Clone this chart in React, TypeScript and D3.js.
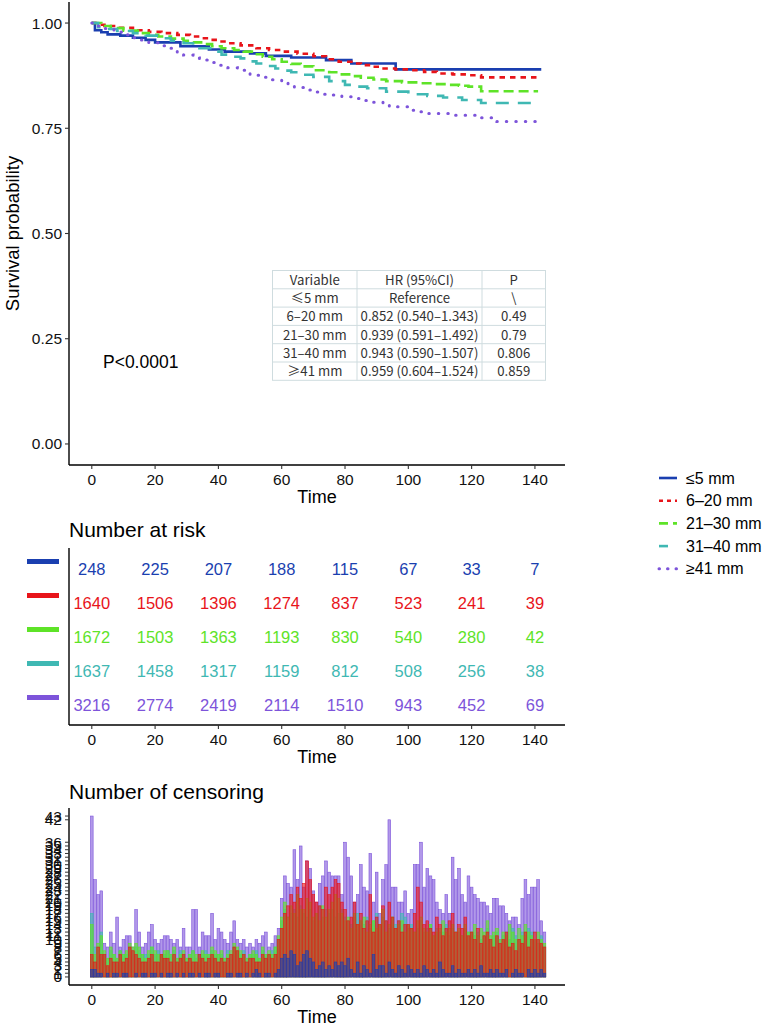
import React from "react";
import * as d3 from "d3";

const groups = ["≤5 mm", "6–20 mm", "21–30 mm", "31–40 mm", "≥41 mm"];
const colors = ["#1a3fb0", "#e8141a", "#5ee328", "#3fb8b3", "#7d54da"];
const dashes = ["none", "5.5,5", "10,5", "13,9", "0.5,9"];

// Survival step curves (time, probability)
const survBlueT = [0, 1, 3, 5, 9, 13, 17, 20, 28, 37, 42, 50, 55, 63, 74, 82, 96, 142];
const survBlueS = [1, 0.983, 0.978, 0.973, 0.97, 0.965, 0.96, 0.954, 0.945, 0.937, 0.932, 0.928, 0.922, 0.918, 0.912, 0.904, 0.89, 0.89];
const survRedT = [0, 2, 4, 8, 13, 18, 22, 27, 31, 34, 37, 40, 43, 47, 52, 56, 60, 65, 70, 74, 78, 82, 85, 88, 91, 96, 101, 105, 109, 114, 119, 123, 142];
const survRedS = [1, 0.996, 0.993, 0.989, 0.983, 0.979, 0.976, 0.972, 0.968, 0.964, 0.96, 0.956, 0.952, 0.947, 0.94, 0.936, 0.932, 0.927, 0.921, 0.914, 0.908, 0.904, 0.9, 0.896, 0.892, 0.89, 0.888, 0.884, 0.88, 0.878, 0.876, 0.871, 0.871];
const survGreenT = [0, 3, 6, 10, 15, 18, 21, 25, 29, 32, 35, 38, 41, 45, 48, 51, 54, 57, 60, 63, 66, 70, 75, 79, 82, 85, 89, 93, 98, 103, 108, 112, 116, 119, 123, 141];
const survGreenS = [1, 0.993, 0.988, 0.982, 0.976, 0.972, 0.968, 0.963, 0.958, 0.954, 0.95, 0.945, 0.94, 0.936, 0.932, 0.926, 0.92, 0.914, 0.908, 0.903, 0.897, 0.888, 0.883, 0.878, 0.874, 0.87, 0.866, 0.862, 0.859, 0.857, 0.855, 0.853, 0.851, 0.849, 0.838, 0.838];
const survCyanT = [0, 2, 4, 8, 13, 17, 21, 25, 29, 32, 34, 38, 41, 44, 47, 50, 52, 55, 58, 61, 63, 67, 70, 75, 80, 84, 87, 93, 100, 106, 111, 117, 123, 141];
const survCyanS = [1, 0.99, 0.986, 0.981, 0.976, 0.97, 0.964, 0.958, 0.952, 0.946, 0.94, 0.932, 0.925, 0.92, 0.916, 0.909, 0.904, 0.898, 0.892, 0.887, 0.883, 0.877, 0.872, 0.862, 0.853, 0.849, 0.845, 0.837, 0.831, 0.827, 0.823, 0.817, 0.81, 0.81];
const survPurpleT = [0, 2, 4, 7, 10, 13, 15, 18, 21, 24, 27, 29, 32, 34, 37, 40, 43, 46, 50, 53, 57, 60, 62, 64, 67, 70, 73, 76, 79, 82, 86, 89, 92, 94, 100, 103, 106, 114, 122, 128, 142];
const survPurpleS = [1, 0.993, 0.987, 0.979, 0.972, 0.965, 0.96, 0.953, 0.946, 0.94, 0.93, 0.924, 0.917, 0.912, 0.906, 0.9, 0.894, 0.888, 0.876, 0.871, 0.865, 0.859, 0.853, 0.847, 0.841, 0.836, 0.831, 0.829, 0.825, 0.821, 0.816, 0.812, 0.806, 0.801, 0.793, 0.789, 0.785, 0.781, 0.775, 0.766, 0.766];

const survTimes = [survBlueT, survRedT, survGreenT, survCyanT, survPurpleT];
const survProbs = [survBlueS, survRedS, survGreenS, survCyanS, survPurpleS];

// HR table
const hrHeader = ["Variable", "HR (95%CI)", "P"];
const hrVariables = ["≤5 mm", "6–20 mm", "21–30 mm", "31–40 mm", "≥41 mm"];
const hrValues = ["Reference", "0.852 (0.540–1.343)", "0.939 (0.591–1.492)", "0.943 (0.590–1.507)", "0.959 (0.604–1.524)"];
const hrP = ["\\", "0.49", "0.79", "0.806", "0.859"];

// Number at risk
const riskTimes = [0, 20, 40, 60, 80, 100, 120, 140];
const riskBlue = [248, 225, 207, 188, 115, 67, 33, 7];
const riskRed = [1640, 1506, 1396, 1274, 837, 523, 241, 39];
const riskGreen = [1672, 1503, 1363, 1193, 830, 540, 280, 42];
const riskCyan = [1637, 1458, 1317, 1159, 812, 508, 256, 38];
const riskPurple = [3216, 2774, 2419, 2114, 1510, 943, 452, 69];
const riskRows = [riskBlue, riskRed, riskGreen, riskCyan, riskPurple];

// Number of censoring, time 0..143
const censorBlue = [
  2, 2, 1, 1, 0, 1, 0, 1, 1, 0, 1, 1, 0, 0, 1, 0, 1, 1, 0, 1,
  1, 0, 1, 0, 1, 1, 0, 1, 0, 1, 0, 1, 1, 0, 1, 0, 1, 1, 0, 1,
  1, 0, 0, 1, 1, 0, 1, 1, 0, 1, 0, 1, 2, 1, 0, 1, 1, 0, 1, 2,
  5, 6, 5, 7, 6, 3, 4, 6, 7, 5, 4, 2, 3, 4, 2, 3, 2, 4, 3, 4,
  3, 5, 2, 1, 4, 1, 3, 2, 1, 6, 2, 3, 3, 1, 4, 2, 1, 3, 2, 1,
  3, 2, 1, 2, 1, 3, 2, 1, 2, 1, 4, 2, 1, 1, 3, 1, 2, 1, 1, 2,
  1, 2, 1, 3, 1, 1, 2, 1, 2, 1, 1, 2, 0, 1, 2, 1, 1, 0, 2, 1,
  2, 1, 2, 1,
];
const censorRed = [
  6, 4, 8, 6, 6, 3, 5, 4, 4, 6, 4, 5, 8, 7, 6, 5, 4, 4, 5, 6,
  4, 4, 6, 5, 5, 4, 6, 4, 5, 6, 4, 5, 4, 4, 6, 5, 4, 5, 6, 5,
  4, 5, 4, 5, 6, 8, 7, 5, 6, 4, 5, 5, 4, 4, 6, 5, 6, 5, 6, 10,
  13, 17, 19, 22, 20, 24, 21, 25, 31, 26, 22, 20, 19, 18, 24, 22, 24, 26, 25, 20,
  18, 15, 16, 20, 14, 17, 13, 15, 22, 12, 16, 14, 19, 15, 20, 16, 13, 15, 12, 14,
  14, 13, 17, 24, 20, 14, 15, 13, 12, 16, 14, 11, 13, 15, 17, 12, 14, 13, 16, 11,
  12, 10, 13, 9, 11, 12, 10, 8, 11, 9, 10, 12, 8, 9, 7, 10, 9, 12, 8, 10,
  12, 10, 9, 8,
];
const censorGreen = [
  14, 6, 9, 11, 7, 5, 8, 6, 5, 7, 6, 7, 9, 8, 9, 8, 6, 5, 7, 8,
  7, 6, 6, 7, 7, 6, 8, 5, 6, 7, 5, 6, 7, 6, 5, 7, 6, 6, 8, 7,
  6, 7, 5, 6, 7, 9, 8, 7, 6, 5, 6, 7, 6, 5, 8, 6, 7, 6, 8, 11,
  16, 20, 16, 19, 17, 22, 18, 18, 21, 20, 16, 17, 15, 19, 16, 18, 20, 22, 21, 17,
  15, 16, 13, 17, 14, 15, 16, 12, 14, 15, 13, 14, 18, 12, 14, 16, 13, 14, 15, 12,
  14, 13, 12, 15, 16, 13, 12, 14, 11, 12, 13, 15, 12, 13, 14, 12, 13, 11, 14, 12,
  12, 14, 11, 13, 12, 15, 11, 12, 13, 10, 12, 11, 14, 12, 10, 13, 11, 14, 12, 11,
  10, 12, 10, 9,
];
const censorCyan = [
  17, 8, 7, 12, 6, 5, 7, 6, 5, 7, 6, 6, 8, 7, 8, 7, 6, 6, 6, 8,
  6, 7, 6, 6, 7, 6, 7, 5, 7, 6, 5, 6, 7, 5, 6, 6, 7, 6, 7, 6,
  6, 6, 5, 7, 6, 8, 7, 6, 7, 5, 6, 6, 7, 5, 7, 6, 6, 7, 8, 10,
  15, 18, 16, 17, 18, 16, 19, 17, 16, 18, 15, 17, 19, 16, 18, 17, 18, 16, 17, 18,
  16, 15, 14, 16, 17, 15, 14, 16, 13, 15, 17, 14, 16, 15, 13, 16, 14, 15, 17, 16,
  13, 14, 12, 13, 15, 12, 13, 14, 11, 13, 12, 12, 14, 11, 13, 12, 12, 11, 13, 12,
  12, 11, 12, 10, 11, 13, 10, 11, 12, 10, 11, 12, 10, 13, 11, 10, 12, 11, 13, 12,
  10, 9, 11, 8,
];
const censorPurple = [
  43, 26, 22, 23, 9, 8, 12, 9, 16, 8, 10, 11, 11, 8, 18, 12, 8, 9, 12, 14,
  10, 9, 10, 11, 11, 10, 9, 10, 8, 13, 8, 8, 18, 18, 8, 12, 11, 11, 17, 10,
  13, 12, 10, 9, 12, 15, 10, 9, 10, 8, 9, 8, 10, 9, 11, 12, 8, 9, 11, 13,
  21, 27, 25, 24, 34, 26, 35, 24, 31, 29, 23, 20, 25, 27, 31, 28, 27, 27, 27, 22,
  36, 32, 27, 20, 22, 30, 24, 23, 33, 20, 28, 17, 26, 30, 42, 24, 24, 20, 20, 23,
  17, 18, 30, 30, 36, 24, 29, 27, 26, 20, 18, 17, 22, 17, 32, 26, 29, 22, 20, 27,
  24, 22, 21, 20, 20, 19, 17, 21, 21, 19, 19, 17, 15, 16, 16, 14, 21, 26, 22, 24,
  24, 26, 15, 12,
];
const censorSeries = [censorBlue, censorRed, censorGreen, censorCyan, censorPurple];
// drawing order of the overlapping censoring bars (back to front)
const censorDrawOrder = [4, 3, 2, 1, 0];

const xTicks = [0, 20, 40, 60, 80, 100, 120, 140];
const survTicks = [0, 0.25, 0.5, 0.75, 1];

const FONT = "'Liberation Sans', Arial, sans-serif";
const CJK = "'Noto Sans CJK SC', 'Noto Sans', sans-serif";

export default function App() {
  const W = 771;
  const H = 1029;
  const left = 69;
  const right = 565;
  const x = d3.scaleLinear().domain([-7.2, 149.5]).range([left, right]);

  const yS = d3.scaleLinear().domain([-0.05, 1.05]).range([465, 2]);
  const line = d3
    .line<[number, number]>()
    .x((d) => x(d[0]))
    .y((d) => yS(d[1]))
    .curve(d3.curveStepAfter);

  const yR = d3.scaleBand<string>().domain(groups).range([552, 722]);

  const maxC = d3.max(censorSeries.flat()) as number;
  const yC = d3.scaleLinear().domain([-maxC * 0.05, maxC * 1.05]).range([985, 808]);
  const censorTicks = Array.from(new Set(censorSeries.flat())).sort((a, b) => a - b);
  const censorTimes = d3.range(0, censorBlue.length);
  const barW = 0.85;

  const tblX = [272.5, 357, 482, 545.5];
  const tblTop = 270.5;
  const rowH = 18.3;
  const hrRows = [hrHeader, ...hrVariables.map((v, i) => [v, hrValues[i], hrP[i]])];

  const xAxis = (yBase: number) => (
    <g>
      <line x1={left} x2={right} y1={yBase} y2={yBase} stroke="#000" strokeWidth={1.4} />
      {xTicks.map((t) => (
        <g key={t}>
          <line x1={x(t)} x2={x(t)} y1={yBase} y2={yBase + 4} stroke="#333" strokeWidth={1.1} />
          <text x={x(t)} y={yBase + 20} textAnchor="middle" fontSize={15.5} fill="#111" fontFamily={FONT}>
            {t}
          </text>
        </g>
      ))}
      <text x={(left + right) / 2} y={yBase + 38} textAnchor="middle" fontSize={18} fill="#000" fontFamily={FONT}>
        Time
      </text>
    </g>
  );

  return (
    <svg width={W} height={H} style={{ display: "block", position: "absolute", left: 0, top: 0 }}>
      <rect width={W} height={H} fill="#fff" />

      {/* Survival panel */}
      <g>
        {groups.map((g, i) => (
          <path
            key={g}
            d={line(survTimes[i].map((t, j) => [t, survProbs[i][j]] as [number, number])) || ""}
            fill="none"
            stroke={colors[i]}
            strokeWidth={i === 4 ? 3 : 2.6}
            strokeDasharray={dashes[i]}
            strokeLinecap={i === 4 ? "round" : "butt"}
          />
        ))}
        <line x1={left} x2={left} y1={2} y2={465} stroke="#000" strokeWidth={1.4} />
        {survTicks.map((t) => (
          <g key={t}>
            <line x1={left - 4} x2={left} y1={yS(t)} y2={yS(t)} stroke="#333" strokeWidth={1.1} />
            <text x={left - 7} y={yS(t) + 5.5} textAnchor="end" fontSize={15.5} fill="#111" fontFamily={FONT}>
              {t.toFixed(2)}
            </text>
          </g>
        ))}
        <text
          transform={`translate(19, ${yS(0.5)}) rotate(-90)`}
          textAnchor="middle"
          fontSize={18.5}
          fill="#000"
          fontFamily={FONT}
        >
          Survival probability
        </text>
        {xAxis(465)}
        <text x={103} y={368} fontSize={17.5} fill="#000" fontFamily={FONT}>
          P&lt;0.0001
        </text>

        {/* HR table */}
        <rect x={tblX[0]} y={tblTop} width={tblX[3] - tblX[0]} height={rowH * 6} fill="#fff" stroke="#cfdcdf" strokeWidth={1} />
        {d3.range(1, 6).map((r) => (
          <line key={r} x1={tblX[0]} x2={tblX[3]} y1={tblTop + r * rowH} y2={tblTop + r * rowH} stroke="#cfdcdf" strokeWidth={1} />
        ))}
        {[1, 2].map((c) => (
          <line key={c} x1={tblX[c]} x2={tblX[c]} y1={tblTop} y2={tblTop + rowH * 6} stroke="#cfdcdf" strokeWidth={1} />
        ))}
        {hrRows.map((row, r) =>
          row.map((cell, c) => (
            <text
              key={`${r}-${c}`}
              x={(tblX[c] + tblX[c + 1]) / 2}
              y={tblTop + r * rowH + rowH / 2 + 5}
              textAnchor="middle"
              fontSize={13.2}
              fill="#333"
              fontFamily={CJK}
            >
              {cell}
            </text>
          ))
        )}
      </g>

      {/* Legend */}
      <g>
        {groups.map((g, i) => {
          const ly = 478 + i * 22.7;
          return (
            <g key={g}>
              <line
                x1={659}
                x2={677}
                y1={ly}
                y2={ly}
                stroke={colors[i]}
                strokeWidth={i === 4 ? 3 : 2.6}
                strokeDasharray={i === 0 ? "none" : i === 1 ? "4,4" : i === 2 ? "9,5" : i === 3 ? "9,12" : "0.5,8"}
                strokeLinecap={i === 4 ? "round" : "butt"}
              />
              <text x={686} y={ly + 5.5} fontSize={16} fill="#000" fontFamily={FONT}>
                {g}
              </text>
            </g>
          );
        })}
      </g>

      {/* Number at risk */}
      <g>
        <text x={69} y={537} fontSize={21} fill="#000" fontFamily={FONT}>
          Number at risk
        </text>
        {groups.map((g, i) => (
          <rect key={g} x={27} y={(yR(g) as number) + yR.bandwidth() / 2 - 10} width={32} height={5} fill={colors[i]} />
        ))}
        {groups.map((g, i) =>
          riskTimes.map((t, j) => (
            <text
              key={`${g}-${t}`}
              x={x(t)}
              y={(yR(g) as number) + yR.bandwidth() / 2 + 6}
              textAnchor="middle"
              fontSize={16.5}
              fill={colors[i]}
              fontFamily={FONT}
            >
              {riskRows[i][j]}
            </text>
          ))
        )}
        <line x1={left} x2={left} y1={548} y2={725} stroke="#000" strokeWidth={1.4} />
        {xAxis(725)}
      </g>

      {/* Number of censoring */}
      <g>
        <text x={69} y={799} fontSize={21} fill="#000" fontFamily={FONT}>
          Number of censoring
        </text>
        {censorDrawOrder.map((gi) => (
          <g key={gi}>
            {censorTimes.map((t) =>
              censorSeries[gi][t] > 0 ? (
                <rect
                  key={t}
                  x={x(t - barW / 2)}
                  y={yC(censorSeries[gi][t])}
                  width={x(barW) - x(0)}
                  height={yC(0) - yC(censorSeries[gi][t])}
                  fill={colors[gi]}
                  fillOpacity={0.6}
                  stroke={colors[gi]}
                  strokeWidth={0.6}
                />
              ) : null
            )}
          </g>
        ))}
        <line x1={left} x2={left} y1={808} y2={985} stroke="#000" strokeWidth={1.4} />
        {censorTicks.map((t) => (
          <g key={t}>
            <line x1={left - 4} x2={left} y1={yC(t)} y2={yC(t)} stroke="#333" strokeWidth={1} />
            <text x={left - 7} y={yC(t) + 5.5} textAnchor="end" fontSize={15.5} fill="#111" fontFamily={FONT}>
              {t}
            </text>
          </g>
        ))}
        {xAxis(985)}
      </g>
    </svg>
  );
}
